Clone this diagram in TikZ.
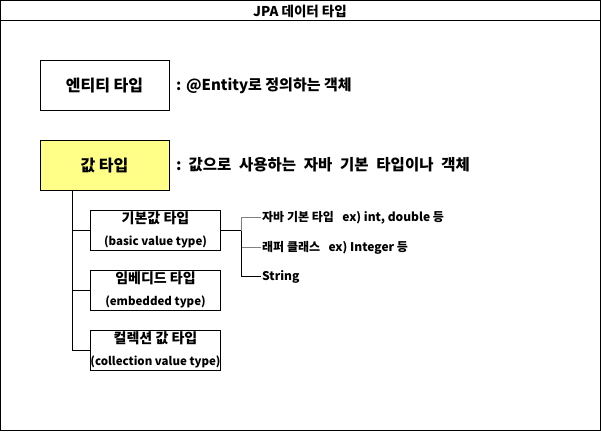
\documentclass[tikz,border=0pt]{standalone}
\usepackage{fontspec}
\setmainfont{Noto Sans CJK KR}
\definecolor{valyellow}{HTML}{FFFF88}
\definecolor{linegrey}{HTML}{808080}
\begin{document}
\begin{tikzpicture}[x=1pt,y=-1pt,
  frame/.style={draw=black,line width=1pt},
  bigbox/.style={draw=black,line width=1pt,minimum width=129pt,minimum height=50pt,inner sep=0pt,font=\fontsize{16}{19}\selectfont\bfseries},
  smallbox/.style={draw=black,line width=1pt,minimum width=130pt,minimum height=40pt,inner sep=0pt},
  boxhead/.style={inner sep=0pt,font=\fontsize{14}{16}\selectfont\bfseries},
  boxsub/.style={inner sep=0pt,font=\fontsize{11.5}{13}\selectfont\bfseries},
  desc/.style={anchor=west,inner sep=0pt,font=\fontsize{15}{18}\selectfont\bfseries},
  leaf/.style={anchor=west,inner sep=1pt,font=\fontsize{12}{14}\selectfont\bfseries},
  conn/.style={draw=black,line width=1pt},
  greyconn/.style={draw=linegrey,line width=1pt}]
\useasboundingbox (0,0) rectangle (601,431);
\draw[frame] (0.5,0.5) rectangle (600.5,430.5);
\draw[frame] (0.5,20.5) -- (600.5,20.5);
\node[font=\fontsize{13.5}{15}\selectfont\bfseries] (title) at (300,11.5) {JPA 데이터 타입};

\node[bigbox] (ent) at (104.5,85.5) {엔티티 타입};
\node[desc] (entd) at (176,86) {: @Entity로 정의하는 객체};

\node[bigbox,fill=valyellow] (val) at (104.5,165.5) {값 타입};
\node[desc,font=\fontsize{15.5}{18}\selectfont\bfseries] (vald) at (176,165) {:\hspace{0.45em}값으로\hspace{0.5em}사용하는\hspace{0.5em}자바\hspace{0.5em}기본\hspace{0.5em}타입이나\hspace{0.5em}객체};

\node[smallbox] (b1) at (155.5,230.5) {};
\node[boxhead] (b1a) at (155.5,218) {기본값 타입};
\node[boxsub] (b1b) at (155.5,242) {(basic value type)};

\node[smallbox] (b2) at (155.5,290.5) {};
\node[boxhead] (b2a) at (155.5,278) {임베디드 타입};
\node[boxsub] (b2b) at (155.5,302) {(embedded type)};

\node[smallbox] (b3) at (155.5,350.5) {};
\node[boxhead] (b3a) at (155.5,338) {컬렉션 값 타입};
\node[boxsub] (b3b) at (155.5,362) {(collection value type)};

\coordinate (trunk) at ([xshift=32.5pt]val.south west);
\draw[conn] (trunk) |- (b1.west);
\draw[conn] (trunk) |- (b2.west);
\draw[conn] (trunk) |- (b3.west);

\node[leaf] (r1) at (261,217.5) {자바 기본 타입\hspace{0.7em}ex) int, double 등};
\node[leaf] (r2) at (261,247.5) {래퍼 클래스\hspace{0.7em}ex) Integer 등};
\node[leaf] (r3) at (261,276.5) {String};

\coordinate (fork) at ([xshift=20pt]b1.east);
\draw[conn] (b1.east) -- (fork);
\draw[greyconn] (fork) |- (r1.west);
\draw[greyconn] (fork) |- (r2.west);
\draw[conn] (fork) |- (r3.west);
\end{tikzpicture}
\end{document}
